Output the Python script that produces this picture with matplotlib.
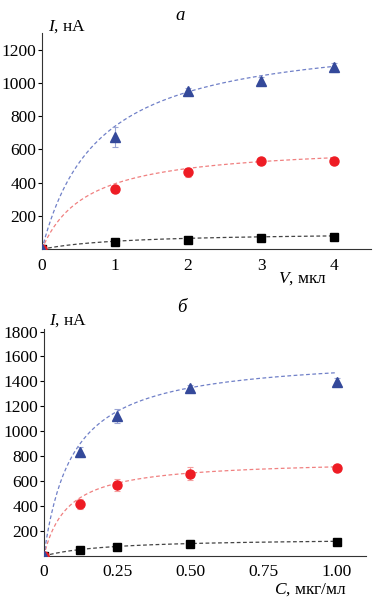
import numpy as np
import matplotlib
matplotlib.use("Agg")
import matplotlib.pyplot as plt

plt.rcParams['font.family'] = ['Liberation Serif', 'DejaVu Serif']
plt.rcParams['font.size'] = 12.5
plt.rcParams['mathtext.fontset'] = 'custom'
plt.rcParams['mathtext.it'] = 'Liberation Serif:italic'
plt.rcParams['mathtext.rm'] = 'Liberation Serif'

# panel a: volume, мкл
vol = [0, 1, 2, 3, 4]
a_black = [0, 45, 58, 70, 76]
a_black_err = [0, 5, 5, 6, 6]
a_red = [0, 360, 462, 530, 530]
a_red_err = [0, 10, 25, 10, 10]
a_blue = [0, 674, 954, 1014, 1094]
a_blue_err = [0, 60, 15, 20, 25]
# fit parameters (Imax, K) for I = Imax*x/(K+x)
a_fit = {"black": (103, 1.14), "red": (634, 0.608), "blue": (1313, 0.774)}

# panel б: concentration, мкг/мл
conc = [0, 0.125, 0.25, 0.5, 1.0]
b_black = [0, 50, 75, 95, 115]
b_black_err = [0, 5, 6, 6, 6]
b_red = [0, 415, 570, 660, 705]
b_red_err = [0, 40, 45, 50, 15]
b_blue = [0, 835, 1120, 1350, 1395]
b_blue_err = [0, 40, 55, 20, 35]
b_fit = {"black": (144, 0.22), "red": (773, 0.081), "blue": (1614, 0.098)}

styles = {
    "black": dict(marker="s", color="black", line="#444444", err="#555555"),
    "red": dict(marker="o", color="#ee1c24", line="#f08080", err="#f4a0a0"),
    "blue": dict(marker="^", color="#34499a", line="#7080c8", err="#9aa4d4"),
}


def draw_panel(ax, x, series, fits, xmax):
    for name, (y, e) in series.items():
        st = styles[name]
        imax, k = fits[name]
        xx = np.linspace(0, xmax, 200)
        ax.plot(xx, imax * xx / (k + xx), ls=(0, (3, 2)), lw=0.9, color=st["line"], zorder=2)
        ax.errorbar(x, y, yerr=e, fmt="none", ecolor=st["err"], elinewidth=0.8, capsize=2.5, capthick=0.8, zorder=3)
        ax.plot(x, y, st["marker"], color=st["color"], ms=6.5 if name != "black" else 5.5, ls="none", zorder=4)
    for s in ("top", "right"):
        ax.spines[s].set_visible(False)
    ax.spines["left"].set_color("#333333")
    ax.spines["bottom"].set_color("#333333")
    ax.tick_params(axis="y", direction="out", length=3, width=0.8, pad=1)
    ax.tick_params(axis="x", direction="out", length=0, pad=6)


fig = plt.figure(figsize=(3.78, 6.02), dpi=100)

ax1 = fig.add_axes([0.111, 0.586, 0.870, 0.359])
draw_panel(ax1, vol, {"black": (a_black, a_black_err), "red": (a_red, a_red_err), "blue": (a_blue, a_blue_err)}, a_fit, 4)
ax1.set_xlim(0, 4.5)
ax1.set_ylim(0, 1300)
ax1.set_xticks([0, 1, 2, 3, 4])
ax1.set_yticks([200, 400, 600, 800, 1000, 1200])
ax1.set_xticklabels(["0", "1", "2", "3", "4"])
fig.text(0.476, 0.975, "$\\mathit{а}$", ha="center", va="center", fontsize=13.5)
fig.text(0.128, 0.955, "$\\mathit{I}$, нА", ha="left", va="center")
fig.text(0.735, 0.537, "$\\mathit{V}$, мкл", ha="left", va="center")

ax2 = fig.add_axes([0.116, 0.0764, 0.852, 0.377])
draw_panel(ax2, conc, {"black": (b_black, b_black_err), "red": (b_red, b_red_err), "blue": (b_blue, b_blue_err)}, b_fit, 1.0)
ax2.set_xlim(0, 1.1)
ax2.set_ylim(0, 1820)
ax2.set_xticks([0, 0.25, 0.5, 0.75, 1.0])
ax2.set_xticklabels(["0", "0.25", "0.50", "0.75", "1.00"])
ax2.set_yticks([200, 400, 600, 800, 1000, 1200, 1400, 1600, 1800])
fig.text(0.484, 0.49, "$\\mathit{б}$", ha="center", va="center", fontsize=13.5)
fig.text(0.13, 0.468, "$\\mathit{I}$, нА", ha="left", va="center")
fig.text(0.725, 0.02, "$\\mathit{C}$, мкг/мл", ha="left", va="center")

fig.savefig("out.png", dpi=100)
